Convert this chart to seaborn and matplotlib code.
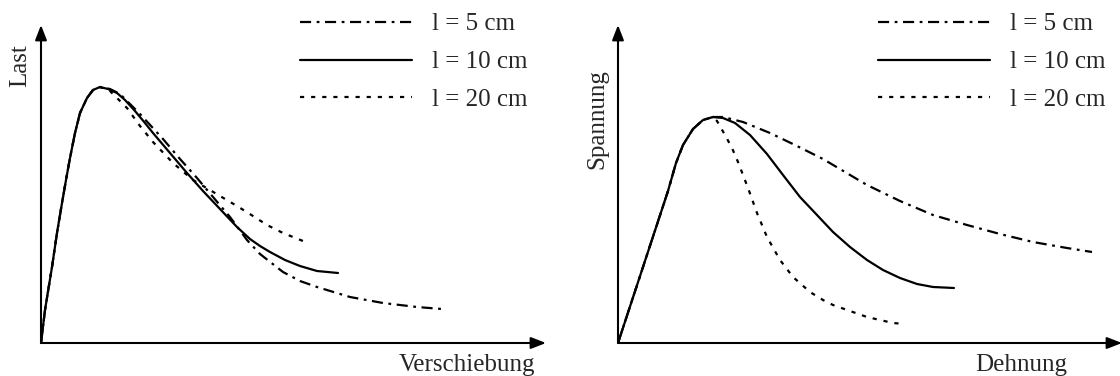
import matplotlib
matplotlib.use("Agg")
import matplotlib.pyplot as plt
import numpy as np
import pandas as pd
import seaborn as sns

# Specimen lengths (legend labels)
lengths = ["l = 5 cm", "l = 10 cm", "l = 20 cm"]

# Load–displacement curves (arbitrary units); the three share the rising branch
rise_x = [0, 4, 11, 16, 21, 25, 29, 34, 39, 46, 52, 59]
rise_y = [0, 33, 76, 110, 140, 163, 185, 210, 230, 245, 253, 256]

last_x_5 = rise_x + [69, 79, 99, 122, 139, 156, 172, 189, 206, 219, 242, 259, 276, 309, 342, 376, 401]
last_y_5 = rise_y + [254, 249, 229, 204, 184, 165, 146, 126, 103, 89, 71, 62, 56, 46, 40, 36, 34]
last_x_10 = rise_x + [67, 76, 84, 94, 104, 112, 129, 146, 162, 179, 196, 209, 219, 229, 244, 259, 276, 297]
last_y_10 = rise_y + [254, 250, 243, 232, 220, 210, 190, 170, 152, 134, 116, 104, 97, 91, 83, 77, 72, 70]
last_x_20 = rise_x + [69, 86, 99, 112, 132, 152, 179, 196, 212, 226, 242, 262]
last_y_20 = rise_y + [252, 235, 217, 201, 180, 163, 147, 137, 127, 118, 110, 102]

# Stress–strain curves (arbitrary units); common elastic branch up to the peak
elastic_x = [0, 50, 58, 65, 75, 85, 95]
elastic_y = [0, 152, 180, 198, 214, 223, 226]

span_x_5 = elastic_x + [105, 125, 152, 179, 205, 249, 282, 315, 349, 382, 415, 449, 474]
span_y_5 = elastic_y + [226, 221, 210, 197, 184, 158, 142, 128, 118, 109, 101, 95, 91]
span_x_10 = elastic_x + [105, 117, 132, 149, 165, 182, 199, 215, 232, 249, 265, 282, 299, 315, 336]
span_y_10 = elastic_y + [225, 220, 208, 189, 168, 146, 128, 111, 96, 83, 73, 65, 59, 56, 55]
span_x_20 = elastic_x + [99, 107, 114, 120, 125, 130, 139, 149, 162, 175, 192, 205, 215, 249, 275, 287]
span_y_20 = elastic_y + [222, 208, 195, 181, 168, 155, 130, 106, 83, 66, 51, 43, 38, 26, 20, 19]

sns.set_theme(style="white")
plt.rcParams["font.family"] = ["Liberation Serif", "DejaVu Serif"]
plt.rcParams["lines.scale_dashes"] = False

W, H = 1120, 376
fig = plt.figure(figsize=(W / 100, H / 100), dpi=100)
ax1 = fig.add_axes([41 / W, 33 / H, 505 / W, 318 / H])
ax2 = fig.add_axes([618 / W, 33 / H, 504 / W, 318 / H])

dash_styles = {
    lengths[0]: (8, 4, 2, 4),
    lengths[1]: "",
    lengths[2]: (3, 5),
}


def frame(xs, ys):
    parts = []
    for lab, x, y in zip(lengths, xs, ys):
        parts.append(pd.DataFrame({"x": x, "y": y, "Länge": lab}))
    return pd.concat(parts, ignore_index=True)


df_last = frame([last_x_5, last_x_10, last_x_20], [last_y_5, last_y_10, last_y_20])
df_span = frame([span_x_5, span_x_10, span_x_20], [span_y_5, span_y_10, span_y_20])

panels = [
    (ax1, df_last, 505, "Last", 20, 66, "Verschiebung", 535, 300),
    (ax2, df_span, 504, "Spannung", 597, 119, "Dehnung", 1067, 878),
]

for ax, df, xmax, ylab, ylx, yly, xlab, xlx, legx in panels:
    sns.lineplot(
        data=df, x="x", y="y", hue="Länge", style="Länge",
        hue_order=lengths, style_order=lengths,
        palette=["black"] * 3, dashes=dash_styles,
        estimator=None, sort=False, linewidth=1.6, ax=ax,
    )
    ax.set(xlim=(0, xmax), ylim=(0, 318), xticks=[], yticks=[], xlabel="", ylabel="")
    for s in ax.spines.values():
        s.set_visible(False)
    arrow = dict(arrowstyle="-|>,head_length=0.9,head_width=0.35", mutation_scale=10,
                 lw=1.5, color="black", shrinkA=0, shrinkB=0)
    ax.annotate("", xy=(1, 0), xytext=(0, 0), xycoords="axes fraction",
                arrowprops=arrow, annotation_clip=False)
    ax.annotate("", xy=(0, 1), xytext=(0, 0), xycoords="axes fraction",
                arrowprops=arrow, annotation_clip=False)

    handles, labels = ax.get_legend_handles_labels()
    ax.legend(handles, labels, loc="upper left",
              bbox_to_anchor=(legx / W, 1 - 13 / H), bbox_transform=fig.transFigure,
              frameon=False, fontsize=18, handlelength=4.48, handletextpad=0.8,
              labelspacing=0.61, borderpad=0, borderaxespad=0)

    fig.text(ylx / W, 1 - yly / H, ylab, rotation=90, ha="center", va="center", fontsize=18)
    fig.text(xlx / W, 1 - 365 / H, xlab, ha="right", va="center", fontsize=18)

fig.savefig("out.png", dpi=100, facecolor="white")
